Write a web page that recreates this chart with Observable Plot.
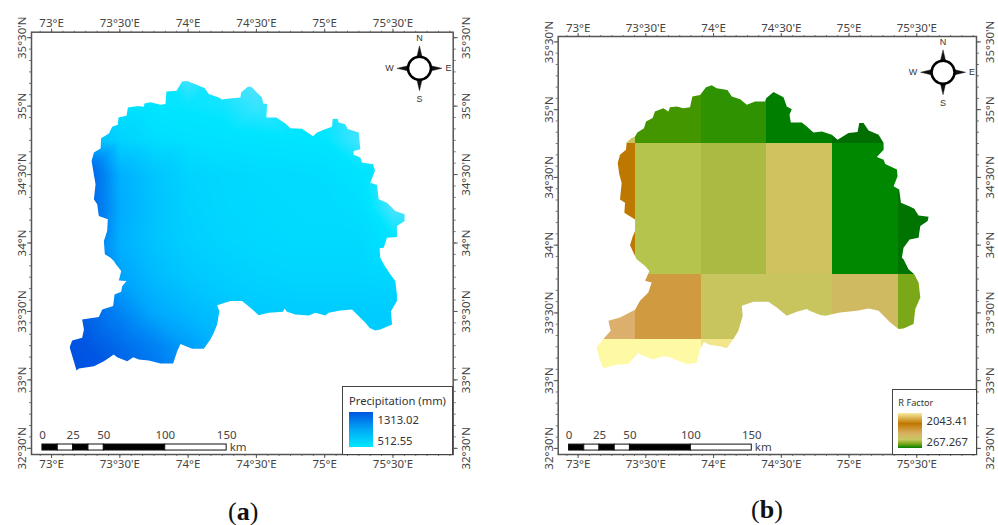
<!DOCTYPE html>
<html>
<head>
<meta charset="utf-8">
<script src="https://cdn.jsdelivr.net/npm/d3@7"></script>
<script src="https://cdn.jsdelivr.net/npm/@observablehq/plot@0.6"></script>
<style>
html,body{margin:0;padding:0;background:#fff;}
#page{position:relative;width:998px;height:525px;overflow:hidden;font-family:"Noto Sans",sans-serif;color:#333;}
#page>div{position:absolute;}
.plot{top:0;}
.box{background:#fff;border:1.5px solid #444;box-sizing:border-box;}
.t{white-space:nowrap;line-height:14px;}
.cap{font:26px "Liberation Serif",serif;color:#111;}
</style>
</head>
<body>
<div id="page"></div>
<script>
// Graticule ticks (degrees)
const lonTicks = [73, 73.5, 74, 74.5, 75, 75.5];
const latTicks = [32.5, 33, 33.5, 34, 34.5, 35, 35.5];
const lonExtent = [72.853, 75.941];
const latExtent = [32.455, 35.54];
const compassAt = {lon: 75.694, lat: 35.276};

// Scale bar
const barKm = [0, 12.5, 25, 37.5, 50, 100, 150];
const barLabels = [0, 25, 50, 100, 150];
const barLon = 72.933, barLat = [32.484, 32.528], degPerKm = 0.008994;

// Catchment outline in panel (a): [lon, lat]
const outlineA = [[73.293,34.600],[73.310,34.661],[73.359,34.690],[73.363,34.766],[73.420,34.800],[73.444,34.849],[73.485,34.863],[73.490,34.917],[73.549,34.929],[73.559,34.990],[73.632,35.000],[73.676,34.995],[73.680,35.020],[73.724,35.029],[73.798,35.010],[73.834,35.015],[73.841,35.107],[73.915,35.112],[73.956,35.180],[73.993,35.183],[74.120,35.132],[74.151,35.088],[74.224,35.063],[74.249,35.049],[74.285,35.054],[74.383,35.063],[74.388,35.100],[74.437,35.141],[74.461,35.141],[74.541,35.063],[74.549,35.020],[74.578,35.015],[74.573,34.917],[74.646,34.917],[74.712,34.873],[74.749,34.839],[74.834,34.834],[74.915,34.780],[74.944,34.807],[75.012,34.834],[75.054,34.849],[75.059,34.905],[75.095,34.907],[75.102,34.880],[75.151,34.868],[75.168,34.832],[75.249,34.807],[75.261,34.685],[75.212,34.673],[75.212,34.644],[75.261,34.624],[75.273,34.588],[75.354,34.576],[75.368,34.527],[75.334,34.441],[75.383,34.424],[75.395,34.320],[75.456,34.295],[75.517,34.234],[75.585,34.210],[75.585,34.161],[75.529,34.124],[75.529,34.044],[75.456,34.039],[75.432,33.966],[75.402,33.961],[75.407,33.893],[75.420,33.868],[75.432,33.844],[75.480,33.771],[75.517,33.722],[75.529,33.624],[75.529,33.576],[75.485,33.502],[75.493,33.405],[75.407,33.368],[75.371,33.361],[75.329,33.380],[75.298,33.417],[75.200,33.515],[75.115,33.507],[75.029,33.490],[75.005,33.471],[74.932,33.490],[74.883,33.471],[74.785,33.478],[74.724,33.498],[74.705,33.522],[74.695,33.498],[74.590,33.490],[74.517,33.473],[74.456,33.527],[74.395,33.576],[74.310,33.576],[74.212,33.546],[74.229,33.502],[74.212,33.405],[74.188,33.344],[74.163,33.295],[74.115,33.227],[74.029,33.227],[73.944,33.263],[73.920,33.210],[73.890,33.120],[73.798,33.120],[73.712,33.141],[73.639,33.149],[73.598,33.166],[73.554,33.137],[73.480,33.166],[73.456,33.185],[73.383,33.137],[73.310,33.100],[73.200,33.083],[73.183,33.068],[73.159,33.149],[73.132,33.239],[73.151,33.288],[73.224,33.307],[73.237,33.368],[73.224,33.441],[73.346,33.459],[73.371,33.515],[73.451,33.539],[73.461,33.624],[73.510,33.644],[73.517,33.685],[73.549,33.722],[73.493,33.727],[73.510,33.795],[73.468,33.849],[73.456,33.868],[73.432,33.893],[73.390,33.917],[73.383,34.015],[73.407,34.088],[73.412,34.173],[73.346,34.198],[73.334,34.283],[73.310,34.320],[73.322,34.429],[73.305,34.527]];

// Catchment outline in panel (b): [lon, lat]
const outlineB = [[73.296,34.603],[73.313,34.664],[73.357,34.701],[73.362,34.755],[73.399,34.787],[73.424,34.799],[73.441,34.828],[73.490,34.860],[73.505,34.909],[73.554,34.934],[73.571,34.983],[73.633,35.007],[73.670,34.983],[73.682,35.015],[73.732,35.020],[73.781,35.007],[73.830,35.015],[73.847,35.093],[73.904,35.105],[73.948,35.162],[73.990,35.176],[74.027,35.154],[74.106,35.142],[74.138,35.093],[74.200,35.074],[74.249,35.032],[74.310,35.056],[74.384,35.056],[74.392,35.081],[74.446,35.127],[74.520,35.088],[74.544,35.020],[74.581,35.000],[74.564,34.958],[74.574,34.902],[74.655,34.902],[74.692,34.873],[74.741,34.828],[74.803,34.836],[74.877,34.811],[74.919,34.775],[75.000,34.824],[75.067,34.831],[75.079,34.897],[75.111,34.897],[75.148,34.843],[75.222,34.811],[75.259,34.750],[75.259,34.701],[75.209,34.647],[75.259,34.627],[75.271,34.596],[75.357,34.554],[75.362,34.505],[75.333,34.431],[75.374,34.407],[75.387,34.309],[75.456,34.279],[75.485,34.265],[75.517,34.216],[75.591,34.206],[75.584,34.174],[75.530,34.137],[75.517,34.051],[75.451,34.039],[75.406,33.978],[75.394,33.904],[75.406,33.892],[75.443,33.819],[75.485,33.782],[75.517,33.721],[75.530,33.610],[75.493,33.525],[75.480,33.414],[75.406,33.382],[75.369,33.377],[75.308,33.426],[75.222,33.512],[75.148,33.529],[75.062,33.512],[74.938,33.500],[74.828,33.475],[74.791,33.480],[74.712,33.512],[74.692,33.525],[74.618,33.505],[74.544,33.475],[74.470,33.537],[74.409,33.578],[74.298,33.578],[74.212,33.549],[74.219,33.475],[74.187,33.365],[74.150,33.304],[74.101,33.235],[74.052,33.250],[73.978,33.260],[73.933,33.279],[73.904,33.230],[73.879,33.127],[73.805,33.120],[73.682,33.169],[73.633,33.176],[73.559,33.152],[73.485,33.181],[73.448,33.201],[73.374,33.120],[73.288,33.113],[73.190,33.088],[73.160,33.157],[73.140,33.243],[73.190,33.304],[73.244,33.365],[73.227,33.439],[73.313,33.463],[73.424,33.520],[73.461,33.586],[73.522,33.647],[73.547,33.721],[73.498,33.733],[73.530,33.806],[73.498,33.843],[73.436,33.892],[73.424,33.917],[73.387,33.995],[73.406,34.059],[73.424,34.100],[73.424,34.186],[73.345,34.235],[73.350,34.309],[73.313,34.333],[73.325,34.456],[73.308,34.517]];

// Precipitation (mm) sampled on a coarse grid, north to south
const gridLons = [73, 73.25, 73.5, 73.75, 74, 74.25, 74.5, 74.75, 75, 75.25, 75.5, 75.75];
const gridLats = [35.25, 35, 34.75, 34.5, 34.25, 34, 33.75, 33.5, 33.25, 33];
const precip = [
  [640,590,570,555,510,545,500,550,550,550,550,550],
  [680,620,575,560,555,550,525,550,555,540,555,555],
  [900,760,640,595,580,575,570,565,560,520,550,555],
  [1300,1250,800,700,635,615,605,600,595,570,560,555],
  [1300,1250,820,710,645,620,610,605,600,590,515,510],
  [1250,1150,800,710,655,630,615,610,610,610,570,530],
  [1250,1050,860,750,690,660,640,630,630,630,620,570],
  [1300,1200,1000,830,760,710,680,670,670,670,670,640],
  [1313,1280,1150,1020,880,780,720,700,680,670,670,670],
  [1313,1300,1250,1100,950,800,720,700,680,670,670,670]
];
const precipStops = [512, 560, 650, 800, 1000, 1313];
const precipColors = ["#50e3ff", "#00e5ff", "#00d0ff", "#00b0ff", "#0085f5", "#0050e0"];

// R factor zones
const zoneLon = [73.0, 73.424, 73.911, 74.392, 74.879, 75.365, 75.7];
const zoneLat = [35.23, 34.75, 33.787, 33.304, 32.9];
const rFactor = [
  [950, 550, 500, 350, 267, 267],
  [1600, 860, 800, 1000, 400, 300],
  [1200, 1350, 950, 950, 1040, 680],
  [2043, 2043, 1900, 1900, 1900, 1900]
];
const rStops = [267, 400, 500, 550, 680, 800, 860, 950, 1000, 1040, 1200, 1350, 1600, 1900, 2043];
const rColors = ["#006e00","#008800","#2f9200","#449600","#7aa818","#aaba42","#b5c44c","#c8c45e","#d0c25e","#cfba62","#dcb06c","#cf9a40","#bd7800","#f2e68c","#fdf9a5"];

const precipRamp = ["#0055e0", "#00a8f5", "#00e8ff"];
const rRamp = ["#f7eca0 0%", "#c07800 30%", "#d8b060 58%", "#c8c860 76%", "#7aa818 88%", "#008000 100%"];

const fontFamily = '"Noto Sans", sans-serif';
const lonFmt = d => { const w = Math.floor(d), m = Math.round((d - w) * 60); return `${w}°${m ? m + "'" : ""}E`; };
const latFmt = d => { const w = Math.floor(d), m = Math.round((d - w) * 60); return `${w}°${m ? m + "'" : ""}N`; };
const minorLon = d3.range(72.9167, 75.95, 1 / 12);
const minorLat = d3.range(32.5, 35.55, 1 / 12);
const poly = pts => ({type: "Polygon", coordinates: [[...pts, pts[0]]]});

// compass spikes, drawn as a custom symbol
const compassSpikes = {draw(c, size) {
  const r = Math.sqrt(size / Math.PI), w = 3.2, b = 9;
  c.moveTo(0, -r); c.lineTo(w, -b); c.lineTo(-w, -b); c.closePath();
  c.moveTo(0, r); c.lineTo(w, b); c.lineTo(-w, b); c.closePath();
  c.moveTo(r, 0); c.lineTo(b, w); c.lineTo(b, -w); c.closePath();
  c.moveTo(-r, 0); c.lineTo(-b, w); c.lineTo(-b, -w); c.closePath();
}};

function commonMarks() {
  const axisOpt = {fontSize: 11.5, stroke: "#555", label: null, fill: "#444"};
  const barSegs = barKm.slice(1).map((k, i) => ({a: barKm[i], b: k, f: i % 2 ? "#fff" : "#000"}));
  return [
    Plot.axisX(minorLon, {anchor: "top", tickSize: 2, text: null, label: null, stroke: "#777"}),
    Plot.axisX(minorLon, {anchor: "bottom", tickSize: 2, text: null, label: null, stroke: "#777"}),
    Plot.axisY(minorLat, {anchor: "left", tickSize: 2, text: null, label: null, stroke: "#777"}),
    Plot.axisY(minorLat, {anchor: "right", tickSize: 2, text: null, label: null, stroke: "#777"}),
    Plot.axisX(lonTicks, {anchor: "top", tickSize: 4, tickPadding: 1, tickFormat: lonFmt, ...axisOpt}),
    Plot.axisX(lonTicks, {anchor: "bottom", tickSize: 4, tickPadding: 1, tickFormat: lonFmt, ...axisOpt}),
    Plot.axisY(latTicks, {anchor: "left", tickSize: 4, tickPadding: 1.5, tickRotate: -90, tickFormat: latFmt, ...axisOpt}),
    Plot.axisY(latTicks, {anchor: "right", tickSize: 4, tickPadding: 13, tickRotate: -90, tickFormat: latFmt, ...axisOpt}),
    Plot.frame({stroke: "#555", strokeWidth: 1.5}),
    Plot.rect(barSegs, {x1: d => barLon + d.a * degPerKm, x2: d => barLon + d.b * degPerKm, y1: barLat[0], y2: barLat[1], fill: "f", stroke: "#111", strokeWidth: 1}),
    Plot.text(barLabels, {x: d => barLon + d * degPerKm, y: barLat[1], dy: -9, text: d => String(d), fontSize: 11.5, fill: "#444", fontFamily}),
    Plot.text(["km"], {x: barLon + 150 * degPerKm, y: barLat[0], dx: 3, dy: -3, textAnchor: "start", fontSize: 11.5, fill: "#444", fontFamily}),
    Plot.dot([compassAt], {x: "lon", y: "lat", r: 22.5, symbol: compassSpikes, fill: "#111", stroke: "#111", strokeWidth: 0.4}),
    Plot.dot([compassAt], {x: "lon", y: "lat", r: 11.5, fill: "#fff", stroke: "#000", strokeWidth: 2.5}),
    ...[["N", 0, -30.5], ["S", 0, 31], ["W", -30, 0], ["E", 29, 0]].map(([t, dx, dy]) =>
      Plot.text([t], {x: compassAt.lon, y: compassAt.lat, dx, dy, fontSize: 9, fill: "#333", fontFamily: '"Liberation Sans", sans-serif'}))
  ];
}

function place(svg, left) {
  const w = document.createElement("div");
  w.className = "plot";
  w.style.left = left + "px";
  w.appendChild(svg);
  document.getElementById("page").appendChild(w);
}
function html(cls, css, text) {
  const d = document.createElement("div");
  d.className = cls;
  Object.assign(d.style, css);
  if (text !== undefined) d.innerHTML = text;
  document.getElementById("page").appendChild(d);
}

// Panel (a)
const precipTable = gridLats.flatMap((lat, i) => gridLons.map((lon, j) => ({lon, lat, v: precip[i][j]})));
place(Plot.plot({
  width: 499, height: 525,
  marginLeft: 31, marginRight: 46.3, marginTop: 31.7, marginBottom: 71,
  style: {fontFamily, background: "transparent", overflow: "visible"},
  x: {domain: lonExtent, axis: null},
  y: {domain: latExtent, axis: null},
  color: {type: "linear", domain: precipStops, range: precipColors, clamp: true},
  marks: [
    Plot.raster(precipTable, {x: "lon", y: "lat", fill: "v", interpolate: "barycentric", pixelSize: 1, clip: poly(outlineA)}),
    ...commonMarks()
  ]
}), 0);

// Panel (b)
const zones = rFactor.flatMap((row, i) => row.map((r, j) => ({x1: zoneLon[j], x2: zoneLon[j + 1], y1: zoneLat[i + 1], y2: zoneLat[i], r})));
place(Plot.plot({
  width: 499, height: 525,
  marginLeft: 58.7, marginRight: 22, marginTop: 36, marginBottom: 71,
  style: {fontFamily, background: "transparent", overflow: "visible"},
  x: {domain: lonExtent, axis: null},
  y: {domain: latExtent, axis: null},
  color: {type: "linear", domain: rStops, range: rColors, clamp: true},
  marks: [
    Plot.rect(zones, {x1: "x1", x2: "x2", y1: "y1", y2: "y2", fill: "r", shapeRendering: "crispEdges", clip: poly(outlineB)}),
    ...commonMarks()
  ]
}), 499);

// Legends
html("box", {left: "342px", top: "386px", width: "111px", height: "68.5px"});
html("t", {left: "349px", top: "394px", fontSize: "11.2px"}, "Precipitation (mm)");
html("", {left: "349px", top: "412px", width: "23.5px", height: "35px", background: `linear-gradient(${precipRamp.join(",")})`});
html("t", {left: "377.5px", top: "413px", fontSize: "11.2px"}, "1313.02");
html("t", {left: "377.5px", top: "434px", fontSize: "11.2px"}, "512.55");

html("box", {left: "891.5px", top: "389px", width: "85px", height: "65.5px"});
html("t", {left: "898.3px", top: "396px", fontSize: "9.2px"}, "R Factor");
html("", {left: "898.3px", top: "413px", width: "23.5px", height: "35px", background: `linear-gradient(${rRamp.join(",")})`});
html("t", {left: "926.5px", top: "414px", fontSize: "11.2px"}, "2043.41");
html("t", {left: "926.5px", top: "435px", fontSize: "11.2px"}, "267.267");

// Captions
html("cap", {left: "228px", top: "497px"}, "(<b>a</b>)");
html("cap", {left: "751px", top: "495px"}, "(<b>b</b>)");
</script>
</body>
</html>
